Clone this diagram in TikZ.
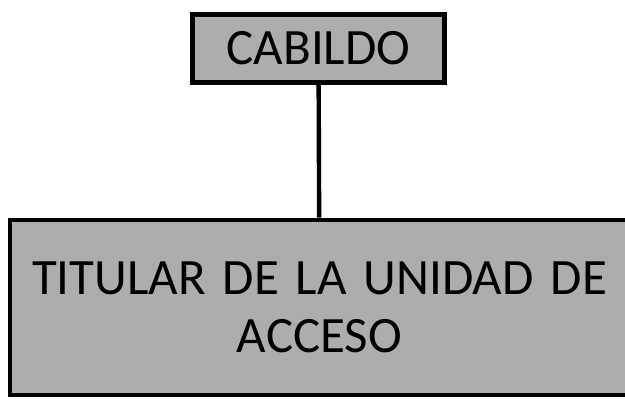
\documentclass[tikz,border=0pt]{standalone}
\usepackage{fontspec}
\setmainfont{Carlito}
\usepackage{tikz}
\usetikzlibrary{positioning}

\begin{document}
\begin{tikzpicture}[
		unitbox/.style={draw, line width=5.5pt, fill=black!32, text=black, inner sep=0pt,
		font=\fontsize{58}{66}\selectfont, align=center}]
		
		%Frame
		\useasboundingbox (0,0) rectangle (25,16);
		
		%Top box
		\node (cabildo) at(12.74,14.06) [unitbox, minimum width=10.08cm, minimum height=2.72cm]{CABILDO};
		
		%Bottom box
		\node (titular) at(12.78,3.7) [unitbox, minimum width=24.76cm, minimum height=7cm,
		text width=24cm]{TITULAR DE LA UNIDAD DE\\ACCESO};
		
		%Link
		\draw[line width=5pt] (cabildo) -- (titular);
		
		\end{tikzpicture}
\end{document}
